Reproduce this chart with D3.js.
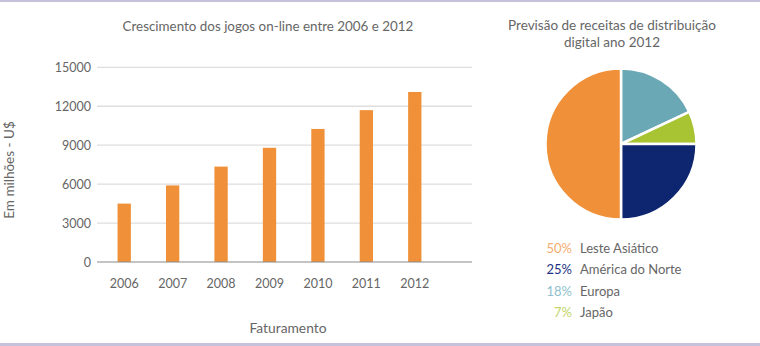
<!DOCTYPE html>
<html><head><meta charset="utf-8">
<script src="https://cdn.jsdelivr.net/npm/d3@7"></script>
<style>
html,body{margin:0;padding:0;background:#fff;}
svg{display:block;font-family:Lato,"Open Sans",sans-serif;}
</style></head>
<body>
<svg id="c" width="760" height="346"></svg>
<script>
// Bar chart data
const years = ["2006","2007","2008","2009","2010","2011","2012"];
const revenue = [4500, 5900, 7350, 8800, 10250, 11700, 13100];
const yTicks = [0, 3000, 6000, 9000, 12000, 15000];

// Pie data
const regions = ["Leste Asiático", "América do Norte", "Europa", "Japão"];
const shares = [50, 25, 18, 7];
const pieOrder = ["Europa", "Japão", "América do Norte", "Leste Asiático"];

const colors = {"Leste Asiático":"#f0913a","América do Norte":"#0e2670","Europa":"#6aa8b5","Japão":"#a9c433"};
const pctColors = {"Leste Asiático":"#f5ad6e","América do Norte":"#1d3184","Europa":"#8fc0cb","Japão":"#c4d66a"};

const svg = d3.select("#c");
const textCol = "#666";

// frame
svg.append("rect").attr("x",0).attr("y",0).attr("width",760).attr("height",2).attr("fill","#c6c2dc");
svg.append("rect").attr("x",0).attr("y",343).attr("width",760).attr("height",3).attr("fill","#c6c2dc");

// ---- bar chart ----
const x = d3.scaleBand().domain(years).range([100,439]).paddingInner(0.725).paddingOuter(0.3625);
const y = d3.scaleLinear().domain([0,15000]).range([262,67.3]);

const g = svg.append("g");
g.selectAll("line.grid").data(yTicks.filter(d=>d>0)).join("line")
  .attr("x1",97).attr("x2",472).attr("y1",d=>y(d)).attr("y2",d=>y(d))
  .attr("stroke","#dedede").attr("stroke-width",1.3);

g.selectAll("rect.bar").data(revenue).join("rect")
  .attr("x",(d,i)=>x(years[i])).attr("width",x.bandwidth())
  .attr("y",d=>y(d)).attr("height",d=>y(0)-y(d)).attr("fill","#f0913a");

g.append("line").attr("x1",97).attr("x2",472).attr("y1",y(0)).attr("y2",y(0))
  .attr("stroke","#8a8a8a").attr("stroke-width",1.2);

const yAxis = d3.axisLeft(y).tickValues(yTicks).tickSize(0).tickPadding(0).tickFormat(d3.format("d"));
const ya = g.append("g").attr("transform","translate(91,0)").call(yAxis);
ya.select(".domain").remove();
ya.selectAll("text").attr("font-size",12.5).attr("fill",textCol).attr("font-family","Lato");

const xAxis = d3.axisBottom(x).tickSize(0).tickPadding(0);
const xa = g.append("g").attr("transform","translate(0,279)").call(xAxis);
xa.select(".domain").remove();
xa.selectAll("text").attr("font-size",12.5).attr("fill",textCol).attr("font-family","Lato");

svg.append("text").attr("x",268).attr("y",31).attr("text-anchor","middle")
  .attr("font-size",13.4).attr("fill",textCol).text("Crescimento dos jogos on-line entre 2006 e 2012");
svg.append("text").attr("x",288).attr("y",333).attr("text-anchor","middle")
  .attr("font-size",13.8).attr("fill",textCol).text("Faturamento");
svg.append("text").attr("transform","translate(14,170) rotate(-90)").attr("text-anchor","middle")
  .attr("font-size",13.5).attr("fill",textCol).text("Em milhões - U$");

// ---- pie ----
const pieVals = pieOrder.map(n=>({name:n, value:shares[regions.indexOf(n)]}));
const pie = d3.pie().sort(null).value(d=>d.value);
const arc = d3.arc().innerRadius(0).outerRadius(75.5);
svg.append("g").attr("transform","translate(621,144)")
  .selectAll("path").data(pie(pieVals)).join("path")
  .attr("d",arc).attr("fill",d=>colors[d.data.name])
  .attr("stroke","#fff").attr("stroke-width",2.5).attr("stroke-linejoin","round");

svg.append("text").attr("x",612).attr("y",30).attr("text-anchor","middle")
  .attr("font-size",13.5).attr("fill",textCol).text("Previsão de receitas de distribuição");
svg.append("text").attr("x",612).attr("y",47).attr("text-anchor","middle")
  .attr("font-size",13.5).attr("fill",textCol).text("digital ano 2012");

const leg = svg.append("g");
regions.forEach((r,i)=>{
  const yy = 253 + i*21.4;
  leg.append("text").attr("x",572).attr("y",yy).attr("text-anchor","end")
    .attr("font-size",13).attr("fill",pctColors[r]).text(shares[i]+"%");
  leg.append("text").attr("x",580).attr("y",yy)
    .attr("font-size",13).attr("fill",textCol).text(r);
});
</script>
</body></html>
